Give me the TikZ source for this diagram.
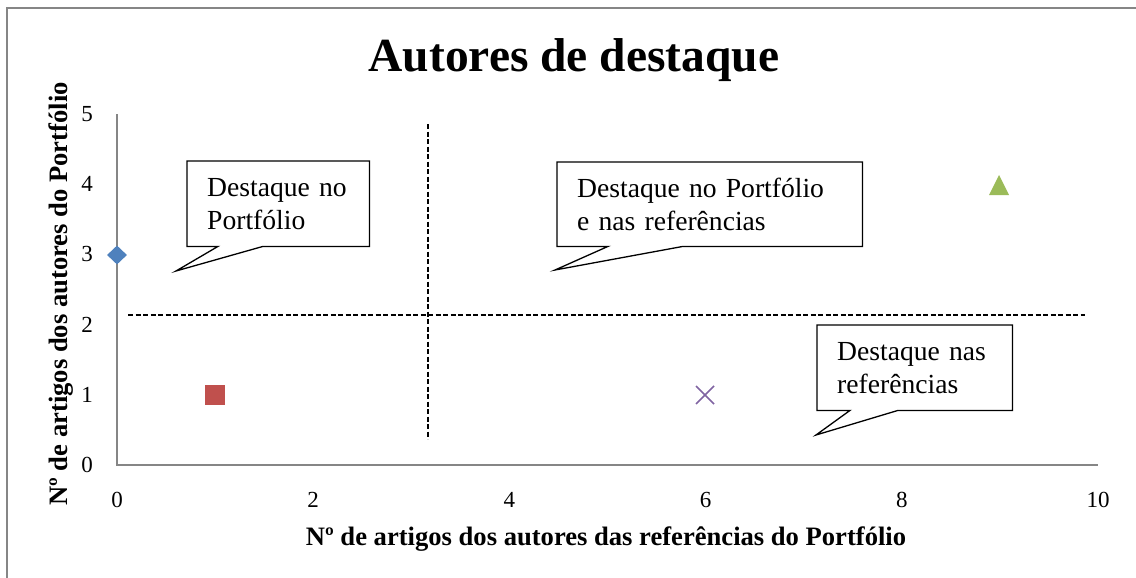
\documentclass[tikz,border=0pt]{standalone}
\usepackage{fontspec}
\setmainfont{Liberation Serif}
\usetikzlibrary{calc,shapes.geometric}
\definecolor{axisgray}{HTML}{868686}
\definecolor{serblue}{HTML}{4F81BD}
\definecolor{serred}{HTML}{C0504D}
\definecolor{sergreen}{HTML}{9BBB59}
\definecolor{serpurple}{HTML}{8064A2}
\tikzset{
  axisline/.style={draw=axisgray, line width=1.5pt},
  divider/.style={dash pattern=on 5pt off 2.5pt, line width=1.1pt},
  ticklabel/.style={font=\fontsize{23}{27}\selectfont, inner sep=0pt},
  axistitle/.style={font=\fontsize{26.6}{32}\selectfont\bfseries, inner sep=0pt},
  balloon/.style={font=\fontsize{27.6}{33}\selectfont, align=left, inner xsep=20pt,
    inner ysep=0pt, anchor=north west},
  outline/.style={line width=1.3pt},
}
\begin{document}
\begin{tikzpicture}[x=1pt, y=-1pt]
   \useasboundingbox (0,0) rectangle (1136,578);
   % chart frame
   \coordinate (f0) at (7,578);
   \coordinate (f1) at (7,8);
   \coordinate (f2) at (1136,8);
   \draw[axisgray, line width=1.5pt] (f0) -- (f1) -- (f2);
   \node[font=\fontsize{47.5}{57}\selectfont\bfseries, anchor=base, inner sep=0pt] (title) at (574,72) {Autores de destaque};
   % axes
   \coordinate (o) at (117,465);
   \coordinate (ytop) at (117,114);
   \coordinate (xend) at (1098,465);
   \draw[axisline] (ytop) -- (o) -- (xend);
   \foreach \v in {0,...,5}
      \node[ticklabel, anchor=east] (y\v) at (93,465-70.2*\v) {\v};
   \foreach \v in {0,2,...,10}
      \node[ticklabel, anchor=base] (x\v) at (117+98.1*\v,507) {\v};
   \node[axistitle, anchor=base] (xtitle) at (606,545) {Nº de artigos dos autores das referências do Portfólio};
   \node[axistitle, anchor=base, rotate=90] (ytitle) at (67,294) {Nº de artigos dos autores do Portfólio};
   % quadrant dividers
   \coordinate (v0) at (428,124);
   \coordinate (v1) at (428,439);
   \coordinate (h0) at (128,315);
   \coordinate (h1) at (1085,315);
   \draw[divider] (v0) -- (v1);
   \draw[divider] (h0) -- (h1);
   % data
   \node[diamond, fill=serblue, inner sep=0pt, minimum width=20pt, minimum height=19pt] (p1) at (117,255) {};
   \node[rectangle, fill=serred, inner sep=0pt, minimum size=20pt] (p2) at (215,395) {};
   \coordinate (p3) at (999,185);
   \fill[sergreen] ($(p3)+(-10,10)$) -- ($(p3)+(10,10)$) -- ($(p3)+(0,-10)$) -- cycle;
   \coordinate (p4) at (705,395);
   \draw[serpurple, line width=1.6pt] ($(p4)+(-9,-9)$) -- ($(p4)+(9,9)$);
   \draw[serpurple, line width=1.6pt] ($(p4)+(-9,9)$) -- ($(p4)+(9,-9)$);
   % callouts
   \node[balloon, minimum width=182pt, minimum height=85pt, text width=142pt] (c1) at (187,161) {Destaque no\\Portfólio};
   \coordinate (t1) at (176,271);
   \draw[outline] (c1.south west) -- (c1.north west) -- (c1.north east) -- (c1.south east)
      -- ($(c1.south west)+(76,0)$) -- (t1) -- ($(c1.south west)+(31,0)$) -- cycle;
   \node[balloon, minimum width=305pt, minimum height=84pt, text width=265pt] (c2) at (557,162) {Destaque no Portfólio\\e nas referências};
   \coordinate (t2) at (555,270);
   \draw[outline] (c2.south west) -- (c2.north west) -- (c2.north east) -- (c2.south east)
      -- ($(c2.south west)+(126,0)$) -- (t2) -- ($(c2.south west)+(51,0)$) -- cycle;
   \node[balloon, minimum width=195pt, minimum height=85pt, text width=155pt] (c3) at (817,325) {Destaque nas\\referências};
   \coordinate (t3) at (816,435);
   \draw[outline] (c3.south west) -- (c3.north west) -- (c3.north east) -- (c3.south east)
      -- ($(c3.south west)+(81,0)$) -- (t3) -- ($(c3.south west)+(33,0)$) -- cycle;
\end{tikzpicture}
\end{document}
